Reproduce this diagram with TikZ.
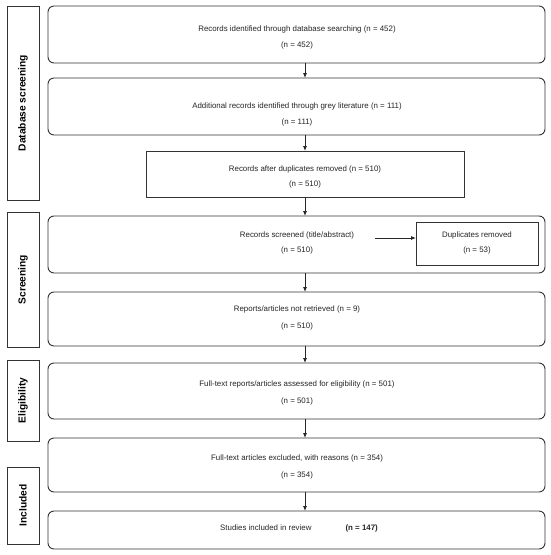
\documentclass[tikz,border=0pt]{standalone}
\usepackage{fontspec}
\setmainfont{Liberation Sans}
\usetikzlibrary{arrows.meta}
\begin{document}
\begin{tikzpicture}[x=1pt,y=-1pt,
  every node/.style={inner sep=0pt,outer sep=0pt},
  frame/.style={draw=black!80,line width=0.9pt,rounded corners=6pt},
  sharpbox/.style={draw=black!80,line width=0.9pt},
  phase/.style={draw=black!80,line width=0.9pt,font=\fontsize{10.2}{12}\selectfont\bfseries},
  txt/.style={font=\fontsize{7.9}{9.5}\selectfont,text=black!85},
  arr/.style={draw=black!85,line width=0.8pt,-{Latex[length=5pt,width=4pt]}}]
\useasboundingbox[fill=white] (0,0) rectangle (550,555);
% phase labels
\node[phase,minimum width=32pt,minimum height=194pt] (l1) at (23,103) {};
\node[rotate=90,font=\fontsize{10.2}{12}\selectfont\bfseries] (l1t) at (l1.center) {Database screening};
\node[phase,minimum width=32pt,minimum height=135pt] (l2) at (23,279.5) {};
\node[rotate=90,font=\fontsize{10.2}{12}\selectfont\bfseries] (l2t) at (l2.center) {Screening};
\node[phase,minimum width=32pt,minimum height=81pt] (l3) at (23,400.5) {};
\node[rotate=90,font=\fontsize{10.2}{12}\selectfont\bfseries] (l3t) at (l3.center) {Eligibility};
\node[phase,minimum width=32pt,minimum height=77pt] (l4) at (23,505.5) {};
\node[rotate=90,font=\fontsize{10.2}{12}\selectfont\bfseries] (l4t) at (l4.center) {Included};
% boxes
\node[frame,minimum width=497pt,minimum height=57pt] (b1) at (296.5,34.5) {};
\node[frame,minimum width=497pt,minimum height=57pt] (b2) at (296.5,106.5) {};
\node[sharpbox,minimum width=318pt,minimum height=46pt] (b3) at (305,174) {};
\node[frame,minimum width=497pt,minimum height=57pt] (b4) at (296.5,244.5) {};
\node[sharpbox,minimum width=122pt,minimum height=43pt] (dup) at (477,243.5) {};
\node[frame,minimum width=497pt,minimum height=54pt] (b5) at (296.5,319) {};
\node[frame,minimum width=497pt,minimum height=56pt] (b6) at (296.5,391) {};
\node[frame,minimum width=497pt,minimum height=54pt] (b7) at (296.5,465) {};
\node[frame,minimum width=497pt,minimum height=38pt] (b8) at (296.5,530) {};
% texts
\node[txt] (t1a) at (297,29) {Records identified through database searching (n = 452)};
\node[txt] (t1b) at (297,45) {(n = 452)};
\node[txt] (t2a) at (297,106) {Additional records identified through grey literature (n = 111)};
\node[txt] (t2b) at (297,122) {(n = 111)};
\node[txt] (t3a) at (305,169) {Records after duplicates removed (n = 510)};
\node[txt] (t3b) at (305,184) {(n = 510)};
\node[txt] (t4a) at (297,235) {Records screened (title/abstract)};
\node[txt] (t4b) at (297,250) {(n = 510)};
\node[txt] (dta) at (477,235) {Duplicates removed};
\node[txt] (dtb) at (477,250) {(n = 53)};
\node[txt] (t5a) at (297,309) {Reports/articles not retrieved (n = 9)};
\node[txt] (t5b) at (297,326) {(n = 510)};
\node[txt] (t6a) at (297,384) {Full-text reports/articles assessed for eligibility (n = 501)};
\node[txt] (t6b) at (297,401) {(n = 501)};
\node[txt] (t7a) at (297,458) {Full-text articles excluded, with reasons (n = 354)};
\node[txt] (t7b) at (297,475) {(n = 354)};
\node[txt] (t8) at (299,528) {Studies included in review\hspace{34pt}\textbf{(n = 147)}};
% arrows
\coordinate (ax) at (305,0);
\draw[arr] (b1.south -| ax) -- (b2.north -| ax);
\draw[arr] (b2.south -| ax) -- (b3.north -| ax);
\draw[arr] (b3.south -| ax) -- (b4.north -| ax);
\draw[arr] (b4.south -| ax) -- (b5.north -| ax);
\draw[arr] (b5.south -| ax) -- (b6.north -| ax);
\draw[arr] (b6.south -| ax) -- (b7.north -| ax);
\draw[arr] (b7.south -| ax) -- (b8.north -| ax);
\coordinate (hs) at (375,238);
\draw[arr] (hs) -- (hs -| dup.west);
\end{tikzpicture}
\end{document}
